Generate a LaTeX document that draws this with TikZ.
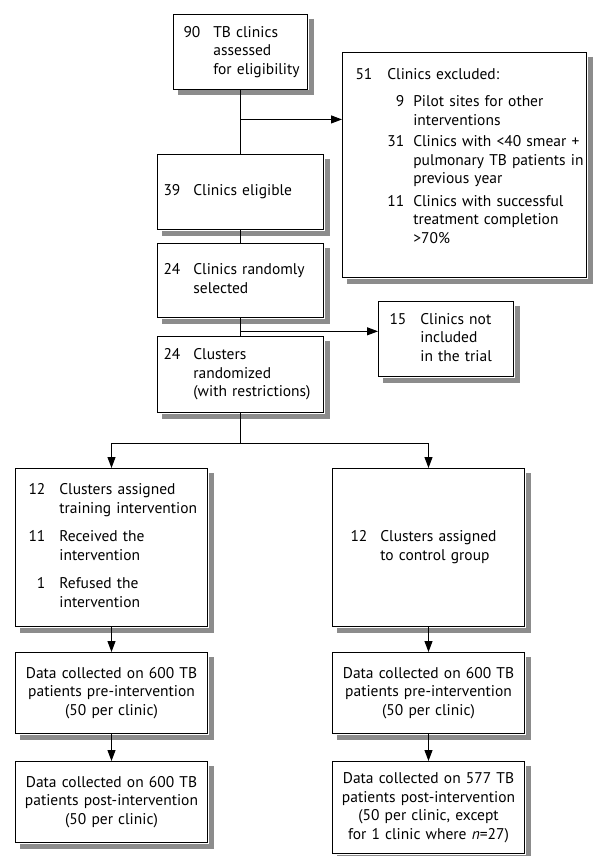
\documentclass[tikz,border=0pt]{standalone}
\usepackage{fontspec}
\setmainfont{PT Sans}
\usetikzlibrary{arrows.meta,positioning}

\tikzset{
  box/.style={draw, fill=white, line width=1pt, anchor=north west, align=left},
  databox/.style={box, align=center, text width=180pt, inner xsep=6pt, minimum height=81pt},
  box shadow/.style={draw=black!45, line width=5pt, miter limit=10},
}

\begin{document}
\begin{tikzpicture}[x=1pt,y=-1pt,line width=1pt,>={Triangle[length=11pt,width=8pt]},
    every node/.style={font=\fontsize{15.5}{18.5}\selectfont}]
    \useasboundingbox (0,0) rectangle (592,856);

    % trunk
    \node[box, text width=114pt, inner xsep=10pt, minimum height=75pt] (assess) at (173,14)
        {\begin{tabular}{@{}r@{\hspace{13pt}}l@{}}90 & TB clinics\\ & assessed\\ & for eligibility\end{tabular}};
    \node[box, text width=154pt, inner xsep=6pt, minimum height=75pt] (elig) at (157,154)
        {\begin{tabular}{@{}r@{\hspace{13pt}}l@{}}39 & Clinics eligible\end{tabular}};
    \node[box, text width=154pt, inner xsep=6pt, minimum height=74pt] (sel) at (157,243)
        {\begin{tabular}{@{}r@{\hspace{13pt}}l@{}}24 & Clinics randomly\\ & selected\end{tabular}};
    \node[box, text width=154pt, inner xsep=6pt, minimum height=76pt] (rand) at (157,336)
        {\begin{tabular}{@{}r@{\hspace{13pt}}l@{}}24 & Clusters\\ & randomized\\ & (with restrictions)\end{tabular}};

    % side boxes
    \node[box, text width=218pt, inner xsep=13pt, inner ysep=0pt, text height=27pt, text depth=198pt] (excl) at (342,52)
        {\begin{tabular}[t]{@{}r@{\hspace{15pt}}l@{}}
         51 & Clinics excluded:\\[9pt]
            & \begin{tabular}[t]{@{}r@{\hspace{9pt}}l@{}}
               9 & Pilot sites for other\\ & interventions\\[3pt]
              31 & Clinics with <40 smear +\\ & pulmonary TB patients in\\ & previous year\\[4pt]
              11 & Clinics with successful\\ & treatment completion\\ & >70\%
              \end{tabular}
         \end{tabular}};
    \node[box, text width=113pt, inner xsep=11pt, minimum height=75pt] (notinc) at (378,301)
        {\begin{tabular}{@{}r@{\hspace{14pt}}l@{}}15 & Clinics not\\ & included\\ & in the trial\end{tabular}};

    % arms
    \node[box, text width=166pt, inner xsep=13pt, minimum height=158pt] (train) at (15,468)
        {\begin{tabular}{@{}r@{\hspace{14pt}}l@{}}
         12 & Clusters assigned\\ & training intervention\\[10pt]
         11 & Received the\\ & intervention\\[10pt]
          1 & Refused the\\ & intervention
         \end{tabular}};
    \node[box, text width=156pt, inner xsep=18pt, minimum height=158pt] (ctrl) at (332,468)
        {\begin{tabular}{@{}r@{\hspace{13pt}}l@{}}12 & Clusters assigned\\ & to control group\end{tabular}};

    \node[databox, below=25pt of train] (preL)
        {Data collected on 600 TB\\patients pre-intervention\\(50 per clinic)};
    \node[databox, below=27pt of preL] (postL)
        {Data collected on 600 TB\\patients post-intervention\\(50 per clinic)};
    \node[databox, below=25pt of ctrl] (preR)
        {Data collected on 600 TB\\patients pre-intervention\\(50 per clinic)};
    \node[databox, below=27pt of preR, minimum height=92pt] (postR)
        {Data collected on 577 TB\\patients post-intervention\\(50 per clinic, except\\for 1 clinic where \textit{n}=27)};

    % shadows along the right and bottom edges
    \foreach \nd in {assess,elig,sel,rand,excl,notinc,train,ctrl,preL,postL,preR,postR}
        \draw[box shadow] ([xshift=3pt,yshift=-5pt]\nd.north east) -- ([xshift=3pt,yshift=-3pt]\nd.south east)
            -- ([xshift=5pt,yshift=-3pt]\nd.south west);

    % connectors
    \draw (assess.south) -- coordinate[pos=0.46] (b1) (elig.north);
    \draw[->] (b1) -- (b1 -| excl.west);
    \draw (elig.south) -- (sel.north);
    \draw (sel.south) -- coordinate[pos=0.74] (b2) (rand.north);
    \draw[->] (b2) -- (b2 -| notinc.west);
    \coordinate[below=30pt of rand] (split);
    \draw (rand.south) -- (split);
    \draw[->] (split) -| (train.north);
    \draw[->] (split) -| (ctrl.north);
    \draw[->] (train) -- (preL);
    \draw[->] (preL) -- (postL);
    \draw[->] (ctrl) -- (preR);
    \draw[->] (preR) -- (postR);
\end{tikzpicture}
\end{document}
